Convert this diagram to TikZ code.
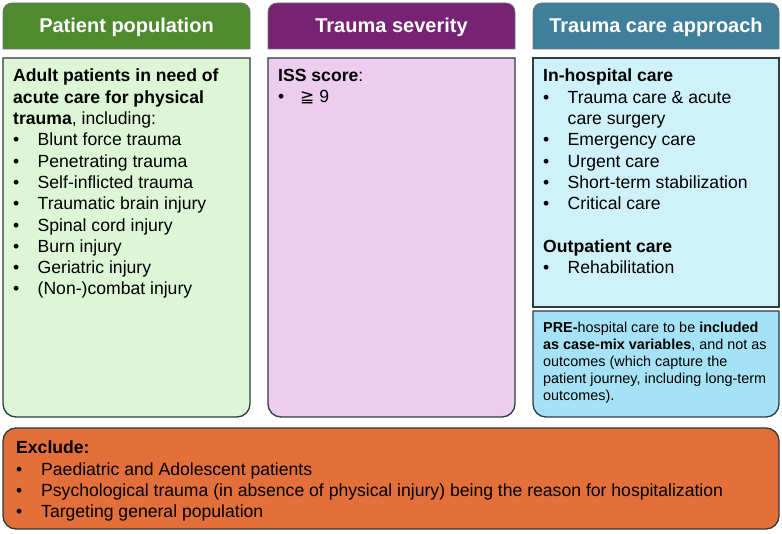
\documentclass[tikz,border=0pt]{standalone}
\usepackage{fontspec}
\setmainfont{Liberation Sans}
\newfontfamily\symfont{DejaVu Sans}
\definecolor{hdgreen}{HTML}{4E8A2E}
\definecolor{bxgreen}{HTML}{DDF7D6}
\definecolor{hdpurple}{HTML}{772374}
\definecolor{bxpurple}{HTML}{ECCDEF}
\definecolor{hdblue}{HTML}{3F7F9C}
\definecolor{bxblue}{HTML}{CFF1F9}
\definecolor{bxbluedk}{HTML}{A6E2F5}
\definecolor{bxorange}{HTML}{E3703A}
\definecolor{edge}{HTML}{2E3B3F}
\newcommand{\bul}[1]{\makebox[24.5pt][l]{\textbullet}#1}
\newcommand{\cont}[1]{\hspace*{24.5pt}#1}
\tikzset{
  header/.style={draw=edge!70, line width=0.8pt},
  panel/.style={draw=edge, line width=1.3pt},
  htext/.style={text=white, font=\fontsize{20}{24}\selectfont\bfseries, anchor=center},
  btext/.style={anchor=north west, align=left, inner sep=0pt, font=\fontsize{17.6}{21.3}\selectfont},
  stext/.style={anchor=north west, align=left, inner sep=0pt, font=\fontsize{14.4}{17}\selectfont},
}
\begin{document}
\begin{tikzpicture}[x=1pt,y=-1pt]
\useasboundingbox (0,0) rectangle (782,534);
% header bars: rounded top corners, square bottom
\draw[header, fill=hdgreen] (3,49) [rounded corners=9pt] -- (3,3) -- (250,3) [sharp corners] -- (250,49) -- cycle;
\draw[header, fill=hdpurple] (268,49) [rounded corners=9pt] -- (268,3) -- (515,3) [sharp corners] -- (515,49) -- cycle;
\draw[header, fill=hdblue] (533,49) [rounded corners=9pt] -- (533,3) -- (779,3) [sharp corners] -- (779,49) -- cycle;
\node[htext] (h1) at (126.5,27) {Patient population};
\node[htext] (h2) at (391.5,27) {Trauma severity};
\node[htext] (h3) at (656,27) {Trauma care approach};
% content panels: square top, rounded bottom corners
\draw[panel, fill=bxgreen] (3,58) [rounded corners=13pt] -- (3,417) -- (250,417) [sharp corners] -- (250,58) -- cycle;
\draw[panel, fill=bxpurple] (268,58) [rounded corners=13pt] -- (268,417) -- (515,417) [sharp corners] -- (515,58) -- cycle;
\draw[panel, fill=bxblue] (533,58) rectangle (779,307);
\draw[panel, fill=bxbluedk] (533,311) [rounded corners=13pt] -- (533,417) -- (779,417) [sharp corners] -- (779,311) -- cycle;
\draw[panel, fill=bxorange, rounded corners=13pt] (3,428) rectangle (779,529);
% texts
\node[btext] (t1) at (13,69) {\textbf{Adult patients in need of}\\
\textbf{acute care for physical}\\
\textbf{trauma}, including:\\
\bul{Blunt force trauma}\\
\bul{Penetrating trauma}\\
\bul{Self-inflicted trauma}\\
\bul{Traumatic brain injury}\\
\bul{Spinal cord injury}\\
\bul{Burn injury}\\
\bul{Geriatric injury}\\
\bul{(Non-)combat injury}};
\node[btext] (t2) at (278,69) {\textbf{ISS score}:\\
\makebox[22pt][l]{\textbullet}{\symfont\fontsize{17}{21.3}\selectfont ≧} 9};
\node[btext] (t3) at (543,69) {\textbf{In-hospital care}\\
\bul{Trauma care \& acute}\\
\cont{care surgery}\\
\bul{Emergency care}\\
\bul{Urgent care}\\
\bul{Short-term stabilization}\\
\bul{Critical care}\\[21.3pt]
\textbf{Outpatient care}\\
\bul{Rehabilitation}};
\node[stext] (t4) at (543,322) {\textbf{PRE-}hospital care to be \textbf{included}\\
\textbf{as case-mix variables}, and not as\\
outcomes (which capture the\\
patient journey, including long-term\\
outcomes).};
\node[btext] (t5) at (16,441) {\textbf{Exclude:}\\
\makebox[25pt][l]{\textbullet}Paediatric and Adolescent patients\\
\makebox[25pt][l]{\textbullet}Psychological trauma (in absence of physical injury) being the reason for hospitalization\\
\makebox[25pt][l]{\textbullet}Targeting general population};
\end{tikzpicture}
\end{document}
